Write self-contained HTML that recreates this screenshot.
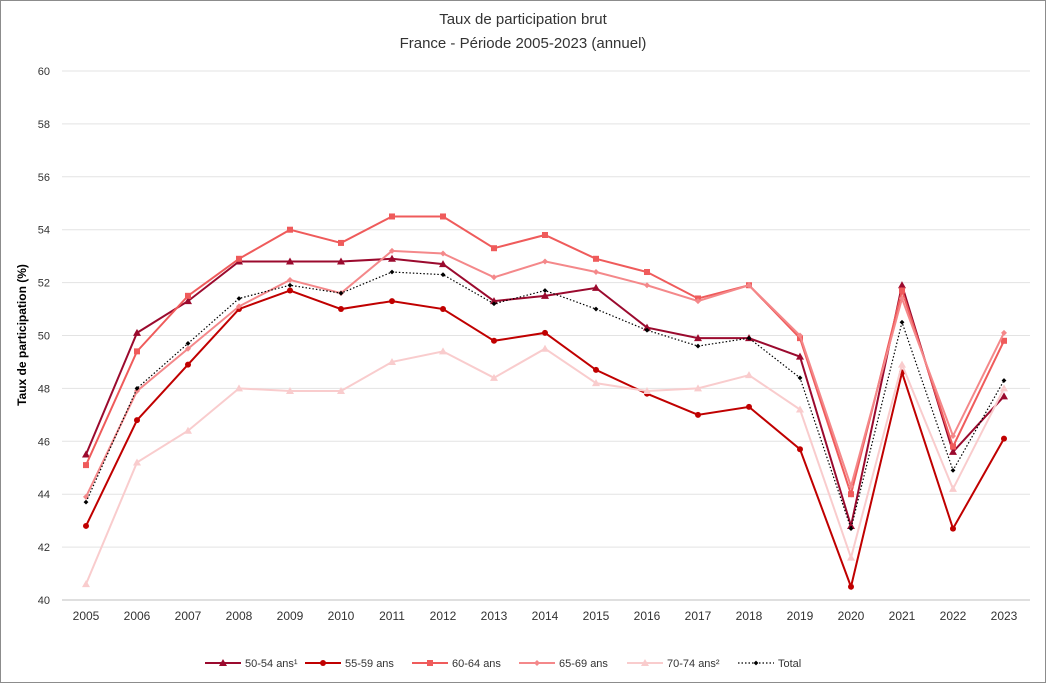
<!DOCTYPE html>
<html><head><meta charset="utf-8"><style>
html,body{margin:0;padding:0;background:#fff}
svg{display:block;font-family:"Liberation Sans",Arial,sans-serif}
</style></head><body>
<svg id="c" width="1046" height="683" xmlns="http://www.w3.org/2000/svg">
<rect x="0.5" y="0.5" width="1045" height="682" fill="#fff" stroke="#8c8c8c"/>
<text x="523" y="24" text-anchor="middle" font-size="15" fill="#333">Taux de participation brut</text>
<text x="523" y="48" text-anchor="middle" font-size="15" fill="#333">France - Période 2005-2023 (annuel)</text>
<text transform="translate(26,335) rotate(-90)" text-anchor="middle" font-size="12" font-weight="bold" fill="#000">Taux de participation (%)</text>
<g id="g"></g>
</svg>
<script>
const ns="http://www.w3.org/2000/svg",g=document.getElementById('g');
function el(t,a,txt){const e=document.createElementNS(ns,t);for(const k in a)e.setAttribute(k,a[k]);if(txt!=null)e.textContent=txt;g.appendChild(e);return e;}
const X=i=>86+i*51, Y=v=>600-(v-40)*26.45;
for(let v=40;v<=60;v+=2){el('line',{x1:62,x2:1030,y1:Y(v),y2:Y(v),stroke:v==40?'#bfbfbf':'#e3e3e3'});el('text',{x:50,y:Y(v)+4,'text-anchor':'end','font-size':11,fill:'#333'},v);}
for(let i=0;i<19;i++)el('text',{x:X(i),y:620,'text-anchor':'middle','font-size':12,fill:'#333'},2005+i);
const S=[
["50-54 ans¹","#9b0a2e","tri",[45.5,50.1,51.3,52.8,52.8,52.8,52.9,52.7,51.3,51.5,51.8,50.3,49.9,49.9,49.2,42.8,51.9,45.6,47.7]],
["55-59 ans","#c00000","circ",[42.8,46.8,48.9,51.0,51.7,51.0,51.3,51.0,49.8,50.1,48.7,47.8,47.0,47.3,45.7,40.5,48.6,42.7,46.1]],
["60-64 ans","#ef5b5b","sq",[45.1,49.4,51.5,52.9,54.0,53.5,54.5,54.5,53.3,53.8,52.9,52.4,51.4,51.9,49.9,44.0,51.7,45.8,49.8]],
["65-69 ans","#f4888a","dia",[43.9,47.9,49.5,51.1,52.1,51.6,53.2,53.1,52.2,52.8,52.4,51.9,51.3,51.9,50.0,44.3,51.4,46.2,50.1]],
["70-74 ans²","#f9cccd","tri",[40.6,45.2,46.4,48.0,47.9,47.9,49.0,49.4,48.4,49.5,48.2,47.9,48.0,48.5,47.2,41.6,48.9,44.2,48.0]],
["Total","#000","dia",[43.7,48.0,49.7,51.4,51.9,51.6,52.4,52.3,51.2,51.7,51.0,50.2,49.6,49.9,48.4,42.7,50.5,44.9,48.3]]];
function mk(t,x,y,c,s){s=s||1;
 if(t=="tri")el('path',{d:`M${x} ${y-4*s}L${x+4*s} ${y+3*s}L${x-4*s} ${y+3*s}Z`,fill:c});
 else if(t=="circ")el('circle',{cx:x,cy:y,r:3*s,fill:c});
 else if(t=="sq")el('rect',{x:x-3*s,y:y-3*s,width:6*s,height:6*s,fill:c});
 else el('path',{d:`M${x} ${y-3*s}L${x+3*s} ${y}L${x} ${y+3*s}L${x-3*s} ${y}Z`,fill:c});}
S.forEach(([n,c,t,d])=>{
 const tot=n=="Total";
 el('polyline',{points:d.map((v,i)=>X(i)+','+Y(v)).join(' '),fill:'none',stroke:c,'stroke-width':tot?1.2:2,'stroke-dasharray':tot?'1.5 2':'none'});
 d.forEach((v,i)=>mk(t,X(i),Y(v),c,tot?0.8:1));});
const lx=[205,305,412,519,627,738];
S.forEach(([n,c,t],k)=>{const x=lx[k],y=663,tot=n=="Total";
 el('line',{x1:x,x2:x+36,y1:y,y2:y,stroke:c,'stroke-width':tot?1.2:2,'stroke-dasharray':tot?'1.5 2':'none'});
 mk(t,x+18,y,c,tot?0.8:1);
 el('text',{x:x+40,y:y+4,'font-size':11,fill:'#333'},n);});
</script>
</body></html>
